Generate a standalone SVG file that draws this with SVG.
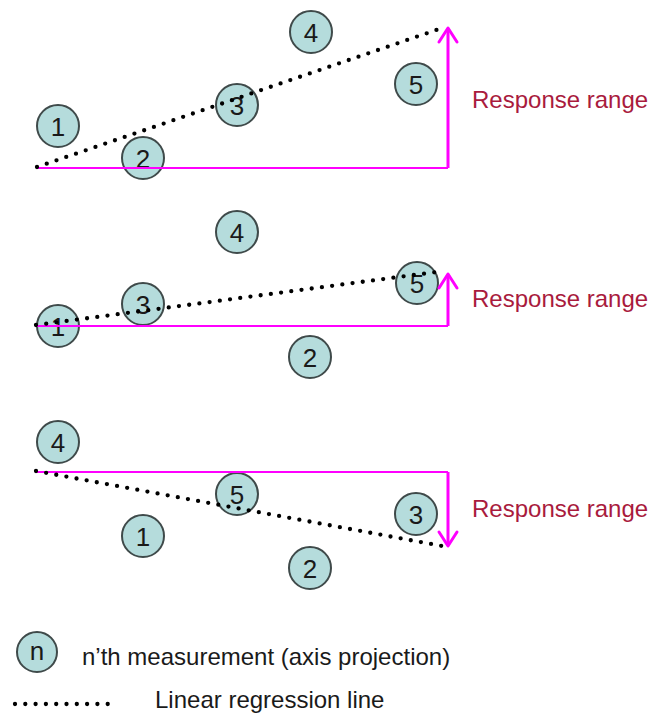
<svg xmlns="http://www.w3.org/2000/svg" width="665" height="714" viewBox="0 0 665 714">
<style>
.c{fill:#b5dcdc;stroke:#3f4a4a;stroke-width:2}
.t{font-family:"Liberation Sans",Arial,sans-serif;font-size:26px;fill:#1a1a1a;text-anchor:middle}
.rr{font-family:"Liberation Sans",Arial,sans-serif;font-size:24px;fill:#a91b3d}
.lg{font-family:"Liberation Sans",Arial,sans-serif;font-size:24px;fill:#1a1a1a}
.h{stroke:#ff00ff;stroke-width:2;fill:none}
.v{stroke:#ff00ff;stroke-width:3;fill:none}
.ah{stroke:#ff00ff;stroke-width:3;fill:none;stroke-linecap:round;stroke-linejoin:round}
.d{stroke:#000;stroke-width:4.3;stroke-linecap:round;stroke-dasharray:0 10.3;fill:none}
</style>
<rect width="665" height="714" fill="#fff"/>
<g id="p1-n1"><circle class="c" cx="58" cy="126" r="21"/><text class="t" x="58" y="135.5">1</text></g>
<g id="p1-n2"><circle class="c" cx="143" cy="158" r="21"/><text class="t" x="143" y="167.5">2</text></g>
<g id="p1-n3"><circle class="c" cx="237" cy="105" r="21"/><text class="t" x="237" y="114.5">3</text></g>
<g id="p1-n4"><circle class="c" cx="311" cy="32" r="21"/><text class="t" x="311" y="41.5">4</text></g>
<g id="p1-n5"><circle class="c" cx="416" cy="84" r="21"/><text class="t" x="416" y="93.5">5</text></g>
<g id="p2-n1"><circle class="c" cx="58" cy="326" r="21"/><text class="t" x="58" y="335.5">1</text></g>
<g id="p2-n3"><circle class="c" cx="143" cy="304" r="21"/><text class="t" x="143" y="313.5">3</text></g>
<g id="p2-n4"><circle class="c" cx="237" cy="232" r="21"/><text class="t" x="237" y="241.5">4</text></g>
<g id="p2-n2"><circle class="c" cx="310" cy="357" r="21"/><text class="t" x="310" y="366.5">2</text></g>
<g id="p2-n5"><circle class="c" cx="417" cy="283" r="21"/><text class="t" x="417" y="292.5">5</text></g>
<g id="p3-n4"><circle class="c" cx="58" cy="442" r="21"/><text class="t" x="58" y="451.5">4</text></g>
<g id="p3-n5"><circle class="c" cx="237" cy="494" r="21"/><text class="t" x="237" y="503.5">5</text></g>
<g id="p3-n1"><circle class="c" cx="143" cy="536" r="21"/><text class="t" x="143" y="545.5">1</text></g>
<g id="p3-n2"><circle class="c" cx="310" cy="568" r="21"/><text class="t" x="310" y="577.5">2</text></g>
<g id="p3-n3"><circle class="c" cx="416" cy="514" r="21"/><text class="t" x="416" y="523.5">3</text></g>
<g id="connectors">
<line class="h" x1="37" y1="168" x2="448" y2="168"/>
<line class="v" x1="448" y1="168" x2="448" y2="29"/>
<polyline class="ah" points="439,42 448,28 457,42"/>
<line class="d" x1="37" y1="167" x2="445" y2="27"/>
<line class="h" x1="36" y1="326" x2="448" y2="326"/>
<line class="v" x1="448" y1="326" x2="448" y2="275"/>
<polyline class="ah" points="439,288 448,274 457,288"/>
<line class="d" x1="36" y1="325" x2="444" y2="271"/>
<line class="h" x1="36" y1="472" x2="448" y2="472"/>
<line class="v" x1="448" y1="472" x2="448" y2="545"/>
<polyline class="ah" points="439,532 448,546 457,532"/>
<line class="d" x1="36" y1="471" x2="442" y2="546"/>
</g>
<text class="rr" x="472" y="108">Response range</text>
<text class="rr" x="472" y="307">Response range</text>
<text class="rr" x="472" y="517">Response range</text>
<g id="legend-n"><circle class="c" cx="37" cy="652" r="20"/><text class="t" x="37" y="660">n</text></g>
<text class="lg" x="82" y="665">n’th measurement (axis projection)</text>
<line class="d" x1="15" y1="704" x2="118" y2="704"/>
<text class="lg" x="155" y="708">Linear regression line</text>
</svg>
